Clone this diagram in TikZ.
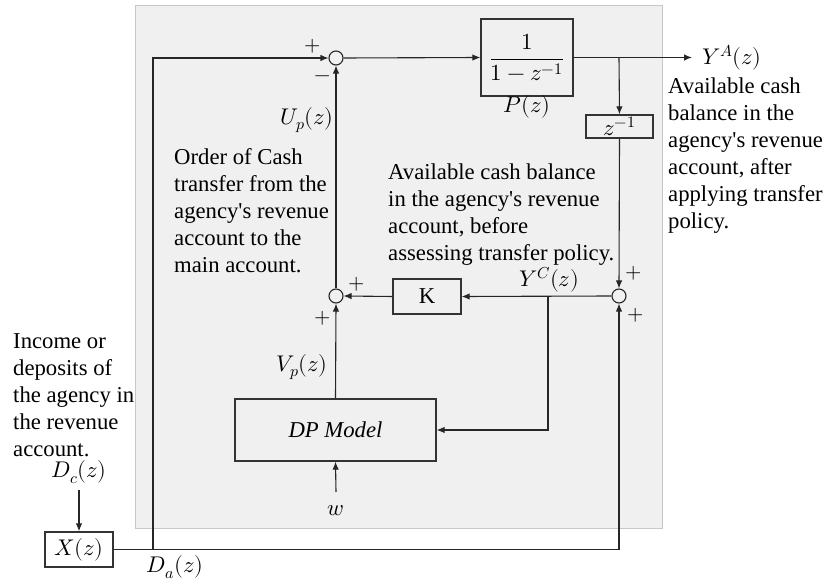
\documentclass[tikz,border=0pt]{standalone}
\usepackage{fontspec}
\usepackage{unicode-math}
\setmainfont{Liberation Serif}[Ligatures=TeXOff]
\setmathfont{Latin Modern Math}
\usetikzlibrary{arrows.meta}

\begin{document}
\begin{tikzpicture}[x=1pt,y=-1pt,
  every node/.style={inner sep=0pt},
  wire/.style={draw=black!85, line width=1.1pt},
  flow/.style={wire, -{Latex[length=8pt,width=6.5pt]}},
  blockbox/.style={draw=black!80, line width=1.3pt, font=\fontsize{22.7}{27}\selectfont},
  junction/.style={circle, draw=black!85, line width=1.1pt, minimum size=14pt},
  note/.style={font=\fontsize{22.7}{27}\selectfont, align=left, anchor=north west},
  mathlab/.style={font=\fontsize{22.7}{27}\selectfont},
  sign/.style={font=\fontsize{21}{24}\selectfont}]

\useasboundingbox (0,0) rectangle (830,585);

% controller region
\fill[fill=black!6, draw=black!22, line width=0.8pt] (135,5) rectangle (662,528);

% blocks
\node[blockbox, minimum width=92pt, minimum height=77pt] (plant) at (527,57.5)
  {\fontsize{23}{28}\selectfont$\displaystyle\frac{1}{1-z^{-1}}$};
\node[blockbox, minimum width=67pt, minimum height=23pt] (delay) at (619.5,126.5) {$z^{-1}$};
\node[blockbox, minimum width=68pt, minimum height=35pt] (gain) at (427,296.5) {K};
\node[blockbox, minimum width=201pt, minimum height=62pt] (dp) at (335.5,430) {\textit{DP Model}};
\node[blockbox, minimum width=68pt, minimum height=35pt] (xz) at (79,549.5) {$X(z)$};

% summing junctions
\node[junction] (sumtop) at (336,58) {};
\node[junction] (sumleft) at (336,296) {};
\node[junction] (sumright) at (619,296) {};

% branch points and free ends
\coordinate (da) at (153,549.5);
\coordinate (dacorner) at (153,58);
\coordinate (brcorner) at (619,549.5);
\coordinate (yout) at (692,57.5);
\coordinate (ybranch) at (619,57.5);
\coordinate (ycbranch) at (548,296);
\coordinate (ycdown) at (548,430);
\coordinate (win) at (336,492);
\coordinate (dcin) at (79,490);

% connectors
\draw[wire] (xz.east) -- (brcorner);
\draw[flow] (brcorner) -- (sumright.south);
\draw[flow] (da) -- (dacorner) -- (sumtop.west);
\draw[flow] (sumtop.east) -- (plant.west);
\draw[flow] (plant.east) -- (yout);
\draw[flow] (ybranch) -- (delay.north);
\draw[flow] (delay.south) -- (sumright.north);
\draw[flow] (sumright.west) -- (gain.east);
\draw[flow] (gain.west) -- (sumleft.east);
\draw[flow] (sumleft.north) -- (sumtop.south);
\draw[flow] (dp.north) -- (sumleft.south);
\draw[flow] (ycbranch) -- (ycdown) -- (dp.east);
\draw[flow] (win) -- (dp.south);
\draw[flow] (dcin) -- (xz.north);

% signs
\node[sign] (s1) at (313,46) {$+$};
\node[sign] (s2) at (323,79) {$-$};
\node[sign] (s3) at (357,284) {$+$};
\node[sign] (s4) at (323,318) {$+$};
\node[sign] (s5) at (634,273) {$+$};
\node[sign] (s6) at (636,315) {$+$};

% signal labels
\node[mathlab, anchor=east] (up) at (334,120) {$U_p(z)$};
\node[mathlab, anchor=east] (vp) at (328,367) {$V_p(z)$};
\node[mathlab] (yc) at (549,280) {$Y^C(z)$};
\node[mathlab, anchor=west] (ya) at (702,58) {$Y^A(z)$};
\node[mathlab] (pz) at (527,107) {$P(z)$};
\node[mathlab] (dc) at (79,472) {$D_c(z)$};
\node[mathlab] (dalab) at (175,567) {$D_a(z)$};
\node[mathlab] (w) at (336,511) {$w$};

% descriptions
\node[note] (n1) at (13,333) {Income or\\deposits of\\the agency in\\the revenue\\account.};
\node[note] (n2) at (174,148) {Order of Cash\\transfer from the\\agency's revenue\\account to the\\main account.};
\node[note] (n3) at (388,164) {Available cash balance\\in the agency's revenue\\account, before\\assessing transfer policy.};
\node[note] (n4) at (668,78) {Available cash\\balance in the\\agency's revenue\\account, after\\applying transfer\\policy.};
\end{tikzpicture}
\end{document}
